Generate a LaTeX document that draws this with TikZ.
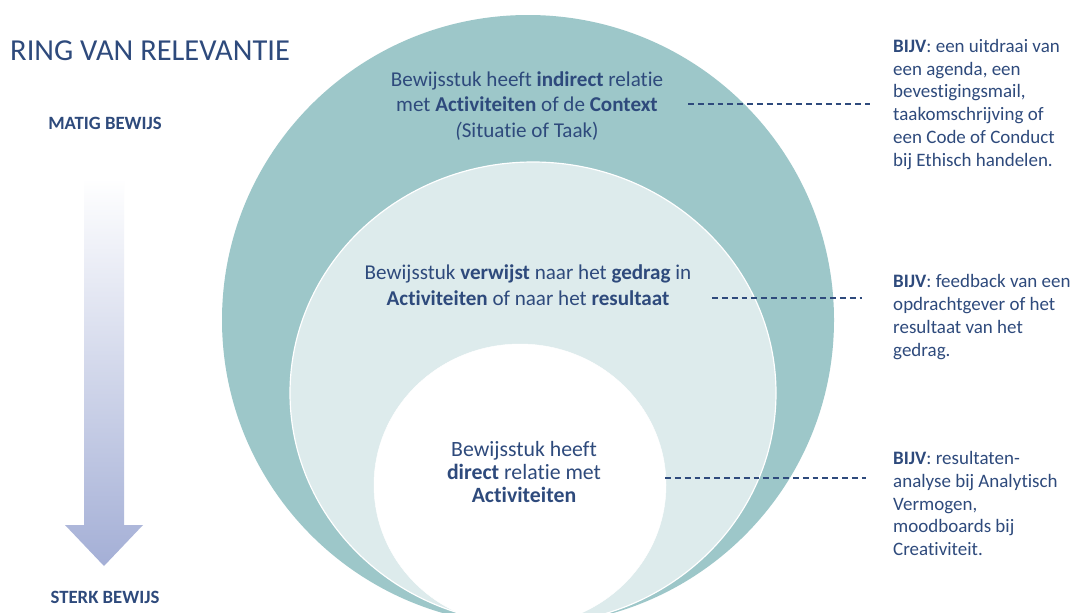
\documentclass[tikz,border=0pt]{standalone}
\usepackage{fontspec}
\setmainfont{Carlito}[Ligatures=NoCommon]
\usepackage{xcolor}
\definecolor{ringblue}{RGB}{46,74,124}
\definecolor{ringteal}{RGB}{157,199,201}
\definecolor{ringpale}{RGB}{221,235,236}
\definecolor{ringlilac}{RGB}{164,175,214}
\tikzset{
  ringtext/.style={text=ringblue,align=center,inner sep=0pt,font=\fontsize{18}{22}\selectfont},
  bijvtext/.style={text=ringblue,align=left,anchor=west,inner sep=0pt,font=\fontsize{16.2}{19.6}\selectfont},
  pijltext/.style={text=ringblue,inner sep=0pt,font=\fontsize{16}{19}\selectfont\bfseries},
  dashline/.style={draw=ringblue,line width=1.1pt,dash pattern=on 5pt off 3.4pt},
}
\begin{document}
\begin{tikzpicture}[x=0.03cm,y=-0.03cm]%
\useasboundingbox (0,0) rectangle (1073,612);%
\fill[white] (0,0) rectangle (1073,612);%
\clip (0,0) rectangle (1073,612);%
% nested rings
\fill[ringteal] (528,320) ellipse [x radius=306,y radius=305];%
\filldraw[fill=ringpale,draw=white,line width=1pt] (533,393) ellipse [x radius=243,y radius=231];%
\filldraw[fill=white,draw=white] (520,485) ellipse [x radius=146,y radius=141];%
% title and arrow
\node[text=ringblue,anchor=base west,inner sep=0pt,font=\fontsize{26}{30}\selectfont] (titel) at (10,60) {RING VAN RELEVANTIE};%
\node[pijltext] (matig) at (105,123) {MATIG BEWIJS};%
\node[pijltext] (sterk) at (105,597) {STERK BEWIJS};%
\shade[top color=white,bottom color=ringlilac] (84,178) -- (124,178) -- (124,525) -- (143,525) -- (104,566) -- (65,525) -- (84,525) -- cycle;%
% ring texts
\node[ringtext] (indirect) at (527,106) {Bewijsstuk heeft \textbf{indirect} relatie\\met \textbf{Activiteiten} of de \textbf{Context}\\\textit{(}Situatie of Taak)};%
\node[ringtext] (verwijst) at (528,285) {Bewijsstuk \textbf{verwijst} naar het \textbf{gedrag} in\\\textbf{Activiteiten} of naar het \textbf{resultaat}};%
\node[ringtext,font=\fontsize{18.6}{19.8}\selectfont] (direct) at (524,472) {Bewijsstuk heeft\\\textbf{direct} relatie met\\\textbf{Activiteiten}};%
% examples
\node[bijvtext] (bijv1) at (893,104.5) {\textbf{BIJV}: een uitdraai van\\een agenda, een\\bevestigingsmail,\\taakomschrijving of\\een Code of Conduct\\bij Ethisch handelen.};%
\node[bijvtext] (bijv2) at (893,317) {\textbf{BIJV}: feedback van een\\opdrachtgever of het\\resultaat van het\\gedrag.};%
\node[bijvtext] (bijv3) at (893,503.5) {\textbf{BIJV}: resultaten-\\analyse bij Analytisch\\Vermogen,\\moodboards bij\\Creativiteit.};%
\coordinate (d1a) at (688,104); \coordinate (d1b) at (870,104);%
\coordinate (d2a) at (712,298); \coordinate (d2b) at (862,298);%
\coordinate (d3a) at (665,478); \coordinate (d3b) at (866,478);%
\draw[dashline] (d1a) -- (d1b);%
\draw[dashline] (d2a) -- (d2b);%
\draw[dashline] (d3a) -- (d3b);%
\end{tikzpicture}
\end{document}
